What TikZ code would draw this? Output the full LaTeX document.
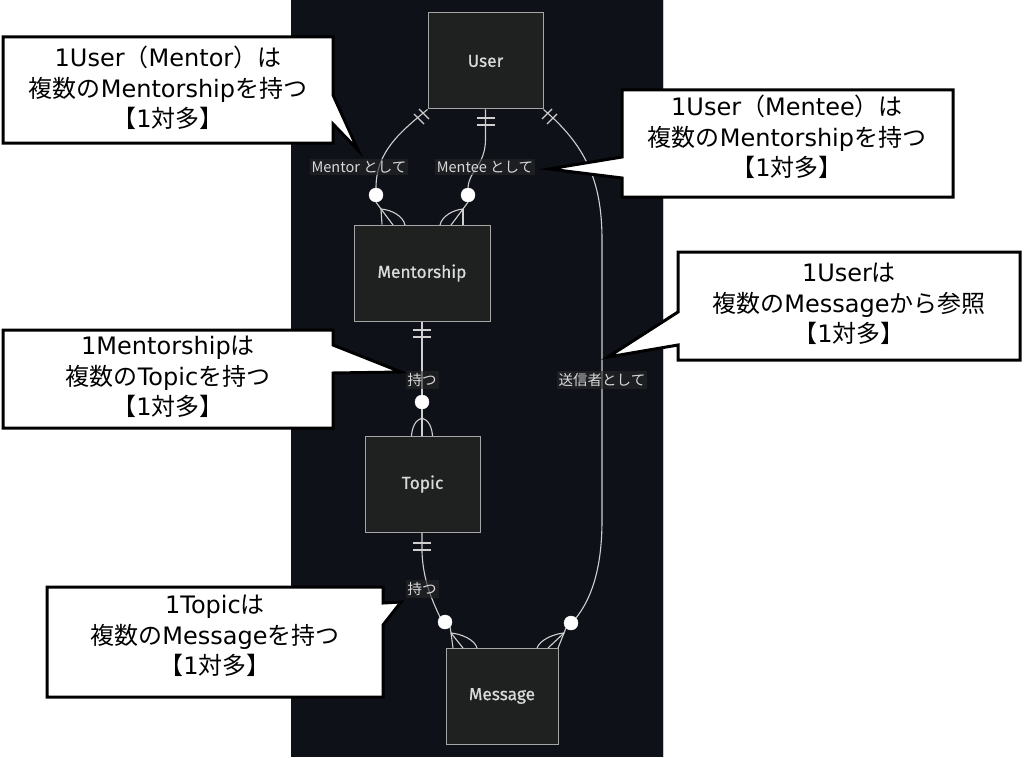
\documentclass[tikz,border=0pt]{standalone}
\usepackage{fontspec}
\setmainfont{Noto Sans CJK JP}
\newfontfamily\entfont{Fira Sans}[FakeBold=0.7]
\newfontfamily\jpfont{Noto Sans CJK JP}
\newfontfamily\latf{DejaVu Sans}
\definecolor{bgdark}{HTML}{0E1117}
\definecolor{entfill}{HTML}{1F2020}
\definecolor{entline}{HTML}{A6A6A6}
\definecolor{edgeline}{HTML}{CFCFCF}
\definecolor{lblbg}{HTML}{26272A}
\definecolor{txtlight}{HTML}{DADADA}
\begin{document}
\begin{tikzpicture}[x=1pt,y=-1pt,
  entity/.style={draw=entline, fill=entfill, line width=1pt, text=txtlight,
    font=\entfont\fontsize{17.3}{20}\selectfont, inner sep=0pt, minimum height=96pt},
  edge/.style={draw=edgeline, line width=1.1pt},
  bar/.style={draw=edgeline, line width=1.1pt},
  zerocirc/.style={circle, fill=white, draw=white, minimum size=14pt, inner sep=0pt},
  elabel/.style={fill=lblbg, fill opacity=0.6, text opacity=1, text=txtlight,
    font=\jpfont\fontsize{14.5}{16}\selectfont, inner sep=2pt},
  callout/.style={draw=black, fill=white, line width=3pt, line join=miter},
  ctext/.style={align=center, text=black, font=\jpfont\fontsize{24}{30.5}\selectfont, inner sep=0pt}
]
\useasboundingbox (0,0) rectangle (1024,757);
\fill[white] (0,0) rectangle (1024,757);
\fill[bgdark] (291,0) rectangle (663,757);
\draw[entline!60, line width=0.8pt] (663,0) -- (663,757);

% entities
\node[entity, minimum width=115pt] (user) at (485.5,61) {User};
\node[entity, minimum width=136pt] (ms) at (422,273) {Mentorship};
\node[entity, minimum width=115pt] (topic) at (422.5,484) {Topic};
\node[entity, minimum width=112pt] (msg) at (502,696) {Message};

% circles (zero markers)
\node[zerocirc] (c1) at (376,195) {};
\node[zerocirc] (c2) at (468,195) {};
\node[zerocirc] (c3) at (422,402) {};
\node[zerocirc] (c4) at (445,622) {};
\node[zerocirc] (c5) at (571,623) {};

% vertices of crow's feet
\coordinate (v1) at (381,209);
\coordinate (v2) at (463,209);
\coordinate (v3) at (422,418);
\coordinate (v4) at (451,633);
\coordinate (v5) at (564,633);

% --- User -> Mentorship (Mentor)
\draw[edge] (user.south west) .. controls (400,132) and (376,152) .. (c1.north);
\draw[edge] (c1.south) -- (v1);
\draw[edge] (v1) -- (ms.north west -| 382,0);
\draw[edge] (v1) -- (393,225);
\draw[edge] (v1) .. controls (392,210) and (403,216) .. (405,225);
\draw[bar] (419,109) -- (429,119);
\draw[bar] (414,114) -- (424,124);

% --- User -> Mentorship (Mentee)
\draw[edge] (user.south) -- (485.5,140) .. controls (485,166) and (469,170) .. (c2.north);
\draw[edge] (c2.south) -- (v2);
\draw[edge] (v2) -- (463,225);
\draw[edge] (v2) -- (451,225);
\draw[edge] (v2) .. controls (453,210) and (442,216) .. (440,225);
\draw[bar] (477,118) -- (495,118);
\draw[bar] (477,125) -- (495,125);

% --- Mentorship -> Topic
\draw[edge] (ms.south) -- (c3.north);
\draw[edge] (c3.south) -- (v3);
\draw[edge] (v3) -- (topic.north -| v3);
\draw[edge] (v3) .. controls (415,420) and (412,428) .. (411.5,436);
\draw[edge] (v3) .. controls (429,420) and (432,428) .. (432.5,436);
\draw[bar] (413,330) -- (431,330);
\draw[bar] (413,337) -- (431,337);

% --- Topic -> Message
\draw[edge] (topic.south -| 422,0) -- (422,552) .. controls (423,580) and (432,600) .. (c4.north west);
\draw[edge] (c4.south east) -- (v4);
\draw[edge] (v4) -- (453,648);
\draw[edge] (v4) -- (463,648);
\draw[edge] (v4) .. controls (462,634) and (475,640) .. (477,648);
\draw[bar] (413,543) -- (431,543);
\draw[bar] (413,550) -- (431,550);

% --- User -> Message (sender)
\draw[edge] (user.south east) .. controls (585,145) and (602,180) .. (602,240) -- (602,520) .. controls (602,572) and (590,600) .. (c5.north east);
\draw[edge] (c5.south west) -- (v5);
\draw[edge] (v5) -- (558,648);
\draw[edge] (v5) -- (548,648);
\draw[edge] (v5) .. controls (553,634) and (540,640) .. (537,648);
\draw[bar] (552,109) -- (542,119);
\draw[bar] (557,114) -- (547,124);

% edge labels
\node[elabel] (l1) at (359,167) {Mentor として};
\node[elabel] (l2) at (485,167) {Mentee として};
\node[elabel] (l3) at (422,380) {持つ};
\node[elabel] (l4) at (602,380) {送信者として};
\node[elabel] (l5) at (422,589) {持つ};

% callouts
\draw[callout] (3,37) -- (333,37) -- (333,95) -- (358,150) -- (333,124) -- (333,143) -- (3,143) -- cycle;
\node[ctext] (t1) at (168,88) {{\latf 1User}（{\latf Mentor}）は\\複数の{\latf Mentorship}を持つ\\【{\latf 1}対多】};

\draw[callout] (622,90) -- (953,90) -- (953,197) -- (622,197) -- (622,178) -- (549,169) -- (622,157) -- cycle;
\node[ctext] (t2) at (787,137) {{\latf 1User}（{\latf Mentee}）は\\複数の{\latf Mentorship}を持つ\\【{\latf 1}対多】};

\draw[callout] (678,252) -- (1020,252) -- (1020,360) -- (678,360) -- (678,345) -- (608,357) -- (678,312) -- cycle;
\node[ctext] (t3) at (849,304) {{\latf 1User}は\\複数の{\latf Message}から参照\\【{\latf 1}対多】};

\draw[callout] (3,330) -- (333,330) -- (333,345) -- (401,372) -- (333,373) -- (333,428) -- (3,428) -- cycle;
\node[ctext] (t4) at (168,377) {{\latf 1Mentorship}は\\複数の{\latf Topic}を持つ\\【{\latf 1}対多】};

\draw[callout] (47,587) -- (383,587) -- (383,603) -- (401,602) -- (383,625) -- (383,697) -- (47,697) -- cycle;
\node[ctext] (t5) at (215,636) {{\latf 1Topic}は\\複数の{\latf Message}を持つ\\【{\latf 1}対多】};
\end{tikzpicture}
\end{document}
